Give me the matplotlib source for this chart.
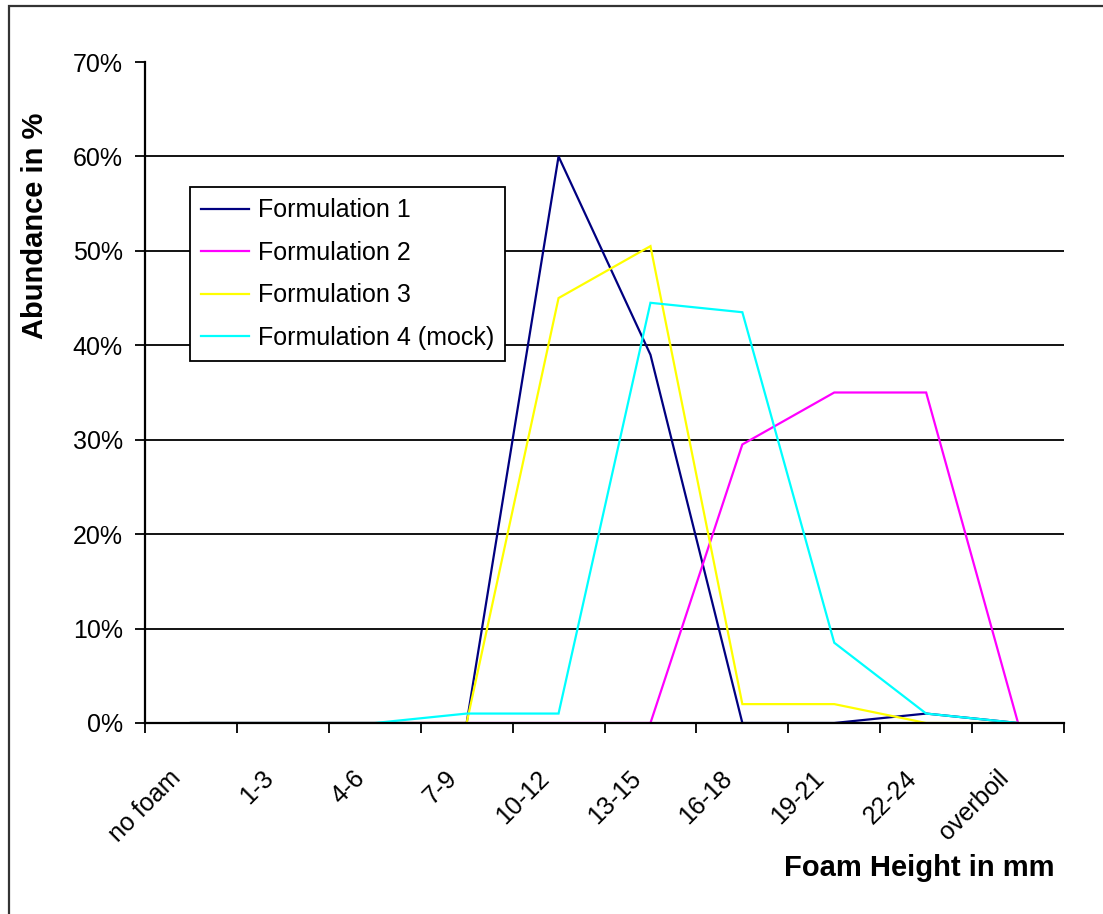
import matplotlib.pyplot as plt
import matplotlib.transforms as mtransforms
from matplotlib.patches import Rectangle
from matplotlib.ticker import FuncFormatter, FixedLocator

plt.rcParams['font.family'] = ['Liberation Sans', 'DejaVu Sans']

# Daten (Abundance in %)
kategorien = ['no foam', '1-3', '4-6', '7-9', '10-12', '13-15',
              '16-18', '19-21', '22-24', 'overboil']
formulierung_1 = [0, 0, 0, 0, 60, 39, 0, 0, 1, 0]
formulierung_2 = [0, 0, 0, 0, 0, 0, 29.5, 35, 35, 0]
formulierung_3 = [0, 0, 0, 0, 45, 50.5, 2, 2, 0, 0]
formulierung_4 = [0, 0, 0, 1, 1, 44.5, 43.5, 8.5, 1, 0]
namen = ['Formulation 1', 'Formulation 2', 'Formulation 3', 'Formulation 4 (mock)']
farben = ['#000080', '#FF00FF', '#FFFF00', '#00FFFF']

fig = plt.figure(figsize=(11.03, 9.14), dpi=100)
ax = fig.add_axes([145 / 1103, 1 - 723 / 914, 919 / 1103, 661 / 914])

x = list(range(len(kategorien)))
for werte, name, farbe in zip([formulierung_1, formulierung_2, formulierung_3, formulierung_4], namen, farben):
    ax.plot(x, werte, color=farbe, lw=1.6, label=name, solid_joinstyle='miter')

ax.set_xlim(-0.5, len(kategorien) - 0.5)
ax.set_ylim(0, 70)

# y-Achse
ax.set_yticks(range(0, 71, 10))
ax.yaxis.set_major_formatter(FuncFormatter(lambda v, p: f'{int(v)}%'))
ax.tick_params(axis='y', direction='out', length=7, width=1.3, pad=9, labelsize=18, colors='black')
ax.grid(axis='y', color='black', lw=1.3)
ax.get_ygridlines()[-1].set_visible(False)
ax.get_ygridlines()[0].set_visible(False)

# x-Achse: Beschriftungen in der Mitte, Striche an den Grenzen
ax.set_xticks(x)
ax.set_xticklabels(kategorien, rotation=45, ha='right', va='top', rotation_mode='anchor')
ax.tick_params(axis='x', which='major', length=0, pad=31, labelsize=18)
ax.xaxis.set_minor_locator(FixedLocator([i - 0.5 for i in range(len(kategorien) + 1)]))
ax.tick_params(axis='x', which='minor', direction='out', length=7, width=1.3)
versatz = mtransforms.ScaledTranslation(-22 / 100, 0, fig.dpi_scale_trans)
for lab in ax.get_xticklabels():
    lab.set_transform(lab.get_transform() + versatz)

for s in ['top', 'right']:
    ax.spines[s].set_visible(False)
for s in ['left', 'bottom']:
    ax.spines[s].set_linewidth(1.6)
    ax.spines[s].set_zorder(3)

leg = ax.legend(loc='upper left', bbox_to_anchor=(45 / 919, (723 - 187) / 661),
                borderaxespad=0, fancybox=False, framealpha=1, edgecolor='black',
                fontsize=18, handlelength=1.9, handletextpad=0.35, labelspacing=0.74,
                borderpad=0.45)
leg.get_frame().set_linewidth(1.3)

fig.text(35 / 1103, 1 - 226 / 914, 'Abundance in %', rotation=90, ha='center', va='center',
         fontsize=21, fontweight='bold')
fig.text(1055 / 1103, 1 - 868 / 914, 'Foam Height in mm', ha='right', va='center',
         fontsize=21, fontweight='bold')

# Rahmen um das Diagramm
fig.patches.append(Rectangle((9 / 1103, -0.05), 1.2, 1 - 6 / 914 + 0.05, transform=fig.transFigure,
                             fill=False, edgecolor='#333333', lw=1.6))

fig.savefig('out.png', dpi=100)
